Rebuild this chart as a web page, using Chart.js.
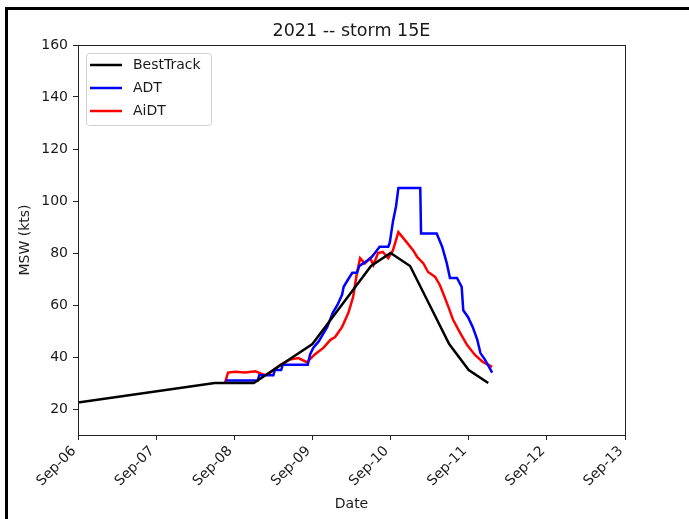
<!DOCTYPE html>
<html>
<head>
<meta charset="utf-8">
<script src="https://cdn.jsdelivr.net/npm/chart.js@4.4.1/dist/chart.umd.min.js"></script>
<style>
    body { margin: 0; background: #fff; }
    #wrap { position: relative; width: 689px; height: 519px; }
</style>
</head>
<body>
<div id="wrap"><canvas id="stormChart" width="689" height="519"></canvas></div>
<script>
    // x values are day of month in September 2021 (fractional days)
    var bestDay = [6.0, 7.75, 8.0, 8.25, 8.5, 8.75, 9.0, 9.25, 9.5, 9.75, 10.0, 10.25, 10.5, 10.75, 11.0, 11.25];
    var bestMsw = [22.5, 30, 30, 30, 35, 40, 45, 55, 65, 75, 80, 75, 60, 45, 35, 30];

    var adtDay = [7.89, 8.30, 8.32, 8.50, 8.52, 8.60, 8.62, 8.94, 8.97, 9.01, 9.08, 9.12, 9.19, 9.26, 9.32, 9.38,
        9.40, 9.46, 9.51, 9.57, 9.60, 9.65, 9.70, 9.76, 9.80, 9.86, 9.97, 9.99, 10.03, 10.07, 10.10, 10.38,
        10.39, 10.59, 10.66, 10.72, 10.76, 10.85, 10.91, 10.93, 10.99, 11.05, 11.11, 11.15, 11.21, 11.30];
    var adtMsw = [31, 31, 33, 33, 35, 35, 37, 37, 41, 43.5, 46, 48, 51.6, 57, 60, 64,
        67, 70, 72.4, 72.4, 75, 76, 77, 78.5, 80, 82.4, 82.4, 84, 92, 98, 105, 105,
        87.5, 87.5, 82.4, 76, 70.4, 70.4, 67, 58, 55.4, 51.6, 46.6, 41.5, 38.9, 34];

    var aidtDay = [7.88, 7.92, 8.01, 8.14, 8.27, 8.39, 8.46, 8.59, 8.71, 8.82, 8.93, 9.03, 9.14, 9.23, 9.29, 9.38,
        9.46, 9.52, 9.57, 9.61, 9.67, 9.74, 9.78, 9.84, 9.90, 9.97, 10.03, 10.10, 10.21, 10.29, 10.34, 10.42,
        10.48, 10.57, 10.63, 10.67, 10.74, 10.80, 10.89, 10.98, 11.08, 11.18, 11.30];
    var aidtMsw = [30, 34, 34.3, 34, 34.5, 33, 34, 37, 39, 39.6, 38, 41, 43.5, 46.6, 47.7, 51.6,
        57, 63, 72.4, 78, 76, 78, 75.4, 80, 80.4, 78, 81, 88, 84, 81, 78.5, 76,
        72.7, 70.8, 67.7, 64.7, 59.3, 54.3, 49.3, 44.6, 40.8, 38.1, 36.2];

    var xTickValues = [6, 7, 8, 9, 10, 11, 12, 13];
    var yTickValues = [20, 40, 60, 80, 100, 120, 140, 160];
    var chartTitle = '2021 -- storm 15E';

    var FONT = 'DejaVu Sans';
    var TXT = '#1a1a1a';

    function toPoints(xs, ys) {
        return xs.map(function (x, i) { return { x: x, y: ys[i] }; });
    }

    // frame of the picture, axes title (centred over the plot) and top/right spines
    var framePlugin = {
        id: 'frame',
        beforeDraw: function (chart) {
            var ctx = chart.ctx;
            var a = chart.chartArea;
            ctx.save();
            ctx.fillStyle = '#000';
            ctx.fillRect(5, 7, 3, 512);
            ctx.fillRect(5, 7, 684, 3);
            ctx.font = '17.5px "' + FONT + '"';
            ctx.fillStyle = TXT;
            ctx.textAlign = 'center';
            ctx.textBaseline = 'middle';
            ctx.fillText(chartTitle, (a.left + a.right) / 2, 31);
            ctx.restore();
        },
        afterDatasetsDraw: function (chart) {
            var a = chart.chartArea;
            var ctx = chart.ctx;
            ctx.save();
            ctx.strokeStyle = '#222';
            ctx.lineWidth = 1;
            ctx.strokeRect(Math.round(a.left) + 0.5, Math.round(a.top) + 0.5, Math.round(a.right - a.left), Math.round(a.bottom - a.top));
            ctx.restore();
        }
    };

    // legend box in upper left like matplotlib
    var legendPlugin = {
        id: 'innerLegend',
        afterDatasetsDraw: function (chart) {
            var a = chart.chartArea;
            var ctx = chart.ctx;
            var bx = a.left + 8, by = a.top + 8, bw = 125, bh = 72;
            ctx.save();
            ctx.beginPath();
            ctx.roundRect(bx + 0.5, by + 0.5, bw, bh, 3);
            ctx.fillStyle = 'rgba(255,255,255,0.8)';
            ctx.fill();
            ctx.strokeStyle = '#d0d0d0';
            ctx.lineWidth = 1;
            ctx.stroke();
            ctx.font = '14px "' + FONT + '"';
            ctx.textBaseline = 'middle';
            ctx.fillStyle = TXT;
            chart.data.datasets.forEach(function (ds, i) {
                var y = by + 12 + i * 23;
                ctx.beginPath();
                ctx.moveTo(bx + 4, y);
                ctx.lineTo(bx + 36, y);
                ctx.strokeStyle = ds.borderColor;
                ctx.lineWidth = 2.5;
                ctx.stroke();
                ctx.fillText(ds.label, bx + 47, y);
            });
            ctx.restore();
        }
    };

    var config = {
        type: 'line',
        data: {
            datasets: [
                { label: 'BestTrack', data: toPoints(bestDay, bestMsw), borderColor: '#000000' },
                { label: 'ADT', data: toPoints(adtDay, adtMsw), borderColor: '#0000ff' },
                { label: 'AiDT', data: toPoints(aidtDay, aidtMsw), borderColor: '#ff0000' }
            ]
        },
        options: {
            responsive: false,
            animation: false,
            devicePixelRatio: 1,
            layout: { padding: { left: 0, right: 64, top: 45, bottom: 0 } },
            elements: {
                point: { radius: 0 },
                line: { borderWidth: 2.5, tension: 0 }
            },
            plugins: {
                legend: { display: false },
                tooltip: { enabled: false },
                title: { display: false }
            },
            scales: {
                x: {
                    type: 'linear',
                    min: 6,
                    max: 13,
                    afterBuildTicks: function (scale) {
                        scale.ticks = xTickValues.map(function (v) { return { value: v }; });
                    },
                    afterFit: function (scale) { scale.height = 84; },
                    ticks: {
                        autoSkip: false,
                        minRotation: 45,
                        maxRotation: 45,
                        padding: 3,
                        labelOffset: -4,
                        color: TXT,
                        font: { family: FONT, size: 14 },
                        callback: function (v) { return 'Sep-' + (v < 10 ? '0' : '') + v; }
                    },
                    grid: { drawOnChartArea: false, drawTicks: true, tickLength: 5, color: '#222' },
                    border: { display: true, color: '#222', width: 1 },
                    title: {
                        display: true,
                        text: 'Date',
                        color: TXT,
                        font: { family: FONT, size: 14, lineHeight: 1.2 },
                        padding: { top: 0, bottom: 6.6 }
                    }
                },
                y: {
                    min: 10,
                    max: 160,
                    afterBuildTicks: function (scale) {
                        scale.ticks = yTickValues.map(function (v) { return { value: v }; });
                    },
                    afterFit: function (scale) { scale.width = 78; },
                    ticks: {
                        padding: 5,
                        color: TXT,
                        font: { family: FONT, size: 14 }
                    },
                    grid: { drawOnChartArea: false, drawTicks: true, tickLength: 5, color: '#222' },
                    border: { display: true, color: '#222', width: 1 },
                    title: {
                        display: true,
                        text: 'MSW (kts)',
                        color: TXT,
                        font: { family: FONT, size: 14, lineHeight: 1.2 },
                        padding: { top: 16.6, bottom: 0 }
                    }
                }
            }
        },
        plugins: [framePlugin, legendPlugin]
    };

    new Chart(document.getElementById('stormChart').getContext('2d'), config);
</script>
</body>
</html>
